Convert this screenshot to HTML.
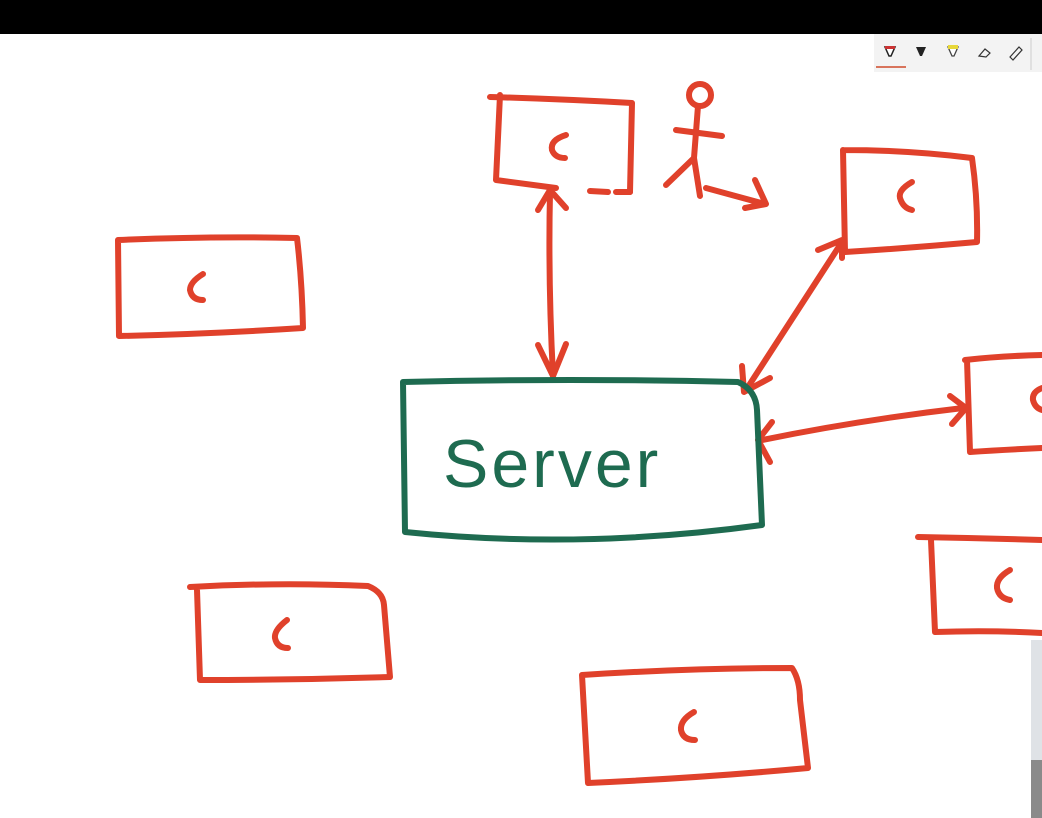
<!DOCTYPE html>
<html><head><meta charset="utf-8"><style>
html,body{margin:0;padding:0;background:#fff;}
svg{display:block;}
</style></head><body>
<svg width="1042" height="818" viewBox="0 0 1042 818" xmlns="http://www.w3.org/2000/svg">
<rect width="1042" height="818" fill="#fff"/>
<rect x="0" y="0" width="1042" height="34" fill="#000"/>
<!-- toolbar -->
<rect x="874" y="34" width="168" height="38" fill="#f3f3f3"/>
<line x1="1031" y1="38" x2="1031" y2="70" stroke="#ccc" stroke-width="1"/>
<line x1="876" y1="67" x2="906" y2="67" stroke="#d04a2a" stroke-width="1.5"/>
<path d="M885 47 L895 47 L891 56 L889 56 Z" fill="#fff" stroke="#222" stroke-width="1.5"/><rect x="885" y="46" width="10" height="3" fill="#c33"/>
<path d="M916 47 L926 47 L922 56 L920 56 Z" fill="#222"/>
<path d="M948 47 L958 47 L954 56 L952 56 Z" fill="#fff" stroke="#444" stroke-width="1.3"/><rect x="948" y="45" width="10" height="4" fill="#e8d83a"/>
<path d="M979 56 L985 49 L990 53 L986 57 Z" fill="none" stroke="#333" stroke-width="1.2"/>
<path d="M1010 57 L1019 47 L1022 50 L1013 60 Z" fill="none" stroke="#333" stroke-width="1.2"/>
<!-- window edge bottom right -->
<rect x="1031" y="640" width="11" height="178" fill="#dfe2e6"/>
<rect x="1031" y="760" width="11" height="58" fill="#8a8a8a"/>

<g fill="none" stroke="#e0412b" stroke-width="6" stroke-linecap="round" stroke-linejoin="round">
<!-- top box -->
<path d="M490 97 Q560 99 632 103 L630 192"/>
<path d="M500 95 L496 180 L556 188"/>
<path d="M590 191 L608 192 M616 192 L630 192"/>
<path d="M566 135 Q550 140 552 150 Q555 158 565 158"/>
<!-- stick figure -->
<circle cx="700" cy="95" r="11"/>
<path d="M698 106 L694 158 M676 130 L722 136 M694 158 L666 185 M694 158 L700 196 M706 188 L765 204 M755 180 L766 204 L745 208"/>
<!-- top right box -->
<path d="M843 150 Q910 150 972 158 Q978 200 977 242 Q910 248 845 252 L843 150"/>
<path d="M912 182 Q898 190 900 198 Q903 208 912 210"/>
<!-- left box -->
<path d="M118 240 Q210 236 297 238 Q302 280 303 328 Q210 334 119 336 L118 240"/>
<path d="M203 274 Q190 282 190 290 Q192 300 203 300"/>
<!-- right partial box -->
<path d="M965 360 Q1000 356 1042 355 M967 360 L970 452 Q1000 450 1042 448"/>
<path d="M1042 388 Q1032 392 1033 400 Q1035 408 1042 410"/>
<!-- right lower box -->
<path d="M918 537 Q980 538 1042 540 M931 540 L935 632 Q990 630 1042 633"/>
<path d="M1010 570 Q996 578 997 588 Q999 598 1010 600"/>
<!-- bottom left box -->
<path d="M190 587 Q280 582 368 586 Q383 592 384 605 L390 677 Q295 680 200 680 L197 590"/>
<path d="M287 620 Q274 630 275 638 Q277 648 288 648"/>
<!-- bottom box -->
<path d="M582 675 Q690 668 792 668 Q800 680 800 700 L808 768 Q700 778 588 783 L582 675"/>
<path d="M694 712 Q680 720 681 730 Q683 740 695 740"/>
<!-- arrows -->
<path d="M550 192 Q548 280 553 376"/>
<path d="M538 210 L550 190 L566 208"/>
<path d="M538 345 L553 376 L566 344"/>
<path d="M840 245 L746 390"/>
<path d="M818 250 L842 240 L842 258"/>
<path d="M742 366 L744 392 L770 378"/>
<path d="M762 440 Q860 420 963 408"/>
<path d="M772 422 L758 440 L770 462"/>
<path d="M950 396 L966 408 L952 424"/>
</g>
<!-- server -->
<path d="M403 382 Q570 378 738 382 Q756 390 757 410 L762 525 Q580 550 405 532 L403 382" fill="none" stroke="#1e6b50" stroke-width="6" stroke-linecap="round" stroke-linejoin="round"/>
<text x="443" y="487" font-family="'Liberation Sans', sans-serif" font-size="68" fill="#1e6b50" letter-spacing="3">Server</text>
</svg>
</body></html>
